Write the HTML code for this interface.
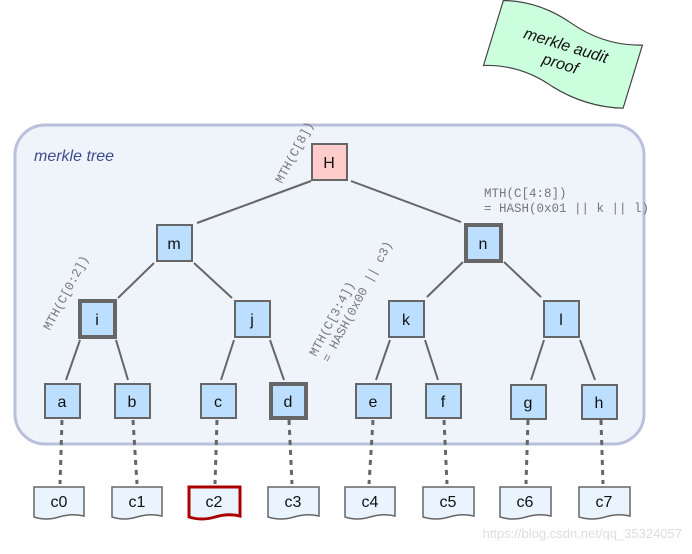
<!DOCTYPE html>
<html><head><meta charset="utf-8"><style>
body{margin:0;background:#fff;}
svg{display:block;font-family:"Liberation Sans",sans-serif;}
.mono{font-family:"Liberation Mono",monospace;font-size:12.5px;fill:#777;}
.n{fill:#bcdfff;stroke:#666;stroke-width:2;}
.nb{fill:#bcdfff;stroke:#666;stroke-width:4;}
.t{font-size:16px;text-anchor:middle;fill:#111;}
.e{stroke:#666;stroke-width:2;}
.dot{stroke:#666;stroke-width:3;stroke-dasharray:5,5;}
.doc{fill:#eaf4ff;stroke:#666;stroke-width:1.5;}
</style></head><body>
<svg width="692" height="554" viewBox="0 0 692 554">
<rect x="15" y="125" width="629" height="319" rx="30" fill="#eff3fa" stroke="#b8c0dc" stroke-width="3"/>
<text x="34" y="161" font-size="16" font-style="italic" fill="#3e4c8c">merkle tree</text>
<g transform="rotate(17 562 55)">
<path d="M490 20 Q525 10 562 22 Q600 34 636 22 L636 88 Q600 98 562 88 Q525 76 490 88 Z" fill="#ccffdd" stroke="#444" stroke-width="1.2"/>
<text x="563" y="50" font-size="16" font-style="italic" text-anchor="middle" fill="#111">merkle audit</text>
<text x="563" y="69" font-size="16" font-style="italic" text-anchor="middle" fill="#111">proof</text>
</g>
<g class="e">
<line x1="311" y1="181" x2="197" y2="223"/><line x1="351" y1="181" x2="461" y2="222"/>
<line x1="154" y1="263" x2="118" y2="298"/><line x1="194" y1="263" x2="232" y2="298"/>
<line x1="463" y1="262" x2="427" y2="297"/><line x1="504" y1="262" x2="541" y2="297"/>
<line x1="80" y1="340" x2="66" y2="380"/><line x1="116" y1="340" x2="128" y2="380"/>
<line x1="234" y1="340" x2="221" y2="380"/><line x1="270" y1="340" x2="284" y2="380"/>
<line x1="390" y1="340" x2="376" y2="380"/><line x1="425" y1="340" x2="438" y2="380"/>
<line x1="544" y1="340" x2="531" y2="380"/><line x1="580" y1="340" x2="595" y2="380"/>
</g>
<g class="dot">
<line x1="62" y1="420" x2="60" y2="484"/><line x1="133" y1="420" x2="137" y2="484"/>
<line x1="217" y1="420" x2="215" y2="484"/><line x1="289" y1="420" x2="292" y2="484"/>
<line x1="373" y1="420" x2="369" y2="484"/><line x1="444" y1="420" x2="447" y2="484"/>
<line x1="528" y1="420" x2="526" y2="484"/><line x1="601" y1="420" x2="603" y2="484"/>
</g>
<rect x="312" y="144" width="35" height="36" fill="#ffcccc" stroke="#666" stroke-width="2"/><text class="t" x="329" y="168">H</text>
<rect class="n" x="157" y="225" width="35" height="36"/><text class="t" x="174" y="249">m</text>
<rect class="nb" x="466" y="225" width="35" height="36"/><text class="t" x="483" y="249">n</text>
<rect class="nb" x="80" y="301" width="35" height="36"/><text class="t" x="97" y="325">i</text>
<rect class="n" x="235" y="301" width="35" height="36"/><text class="t" x="252" y="325">j</text>
<rect class="n" x="389" y="301" width="35" height="36"/><text class="t" x="406" y="325">k</text>
<rect class="n" x="544" y="301" width="35" height="36"/><text class="t" x="561" y="325">l</text>
<rect class="n" x="45" y="384" width="35" height="34"/><text class="t" x="62" y="407">a</text>
<rect class="n" x="115" y="384" width="35" height="34"/><text class="t" x="132" y="407">b</text>
<rect class="n" x="201" y="384" width="35" height="34"/><text class="t" x="218" y="407">c</text>
<rect class="nb" x="271" y="384" width="35" height="34"/><text class="t" x="288" y="407">d</text>
<rect class="n" x="356" y="384" width="35" height="34"/><text class="t" x="373" y="407">e</text>
<rect class="n" x="426" y="384" width="35" height="34"/><text class="t" x="443" y="407">f</text>
<rect class="n" x="511" y="385" width="35" height="34"/><text class="t" x="528" y="408">g</text>
<rect class="n" x="582" y="385" width="35" height="34"/><text class="t" x="599" y="408">h</text>
<g>
<path class="doc" d="M34 487h50v29q-12-3-25 1t-25 0z"/><text class="t" x="59" y="507">c0</text>
<path class="doc" d="M112 487h50v29q-12-3-25 1t-25 0z"/><text class="t" x="137" y="507">c1</text>
<path d="M189 487h51v29q-12-3-25 1t-26 0z" fill="#eaf4ff" stroke="#a00" stroke-width="3"/><text class="t" x="214" y="507">c2</text>
<path class="doc" d="M268 487h51v29q-12-3-25 1t-26 0z"/><text class="t" x="293" y="507">c3</text>
<path class="doc" d="M345 487h50v29q-12-3-25 1t-25 0z"/><text class="t" x="370" y="507">c4</text>
<path class="doc" d="M423 487h51v29q-12-3-25 1t-26 0z"/><text class="t" x="448" y="507">c5</text>
<path class="doc" d="M500 487h51v29q-12-3-25 1t-26 0z"/><text class="t" x="525" y="507">c6</text>
<path class="doc" d="M579 487h51v29q-12-3-25 1t-26 0z"/><text class="t" x="604" y="507">c7</text>
</g>
<text class="mono" transform="translate(282 184) rotate(-62)">MTH(C[8])</text>
<text class="mono" transform="translate(50 331) rotate(-62)">MTH(C[0:2])</text>
<text class="mono" transform="translate(316 357) rotate(-62)">MTH(C[3:4])</text>
<text class="mono" transform="translate(329 363) rotate(-62)">= HASH(0x00 || c3)</text>
<text class="mono" x="484" y="197">MTH(C[4:8])</text>
<text class="mono" x="484" y="212">= HASH(0x01 || k || l)</text>
<text x="682" y="538" font-size="13" fill="#ddd" text-anchor="end">https://blog.csdn.net/qq_35324057</text>
</svg>
</body></html>
